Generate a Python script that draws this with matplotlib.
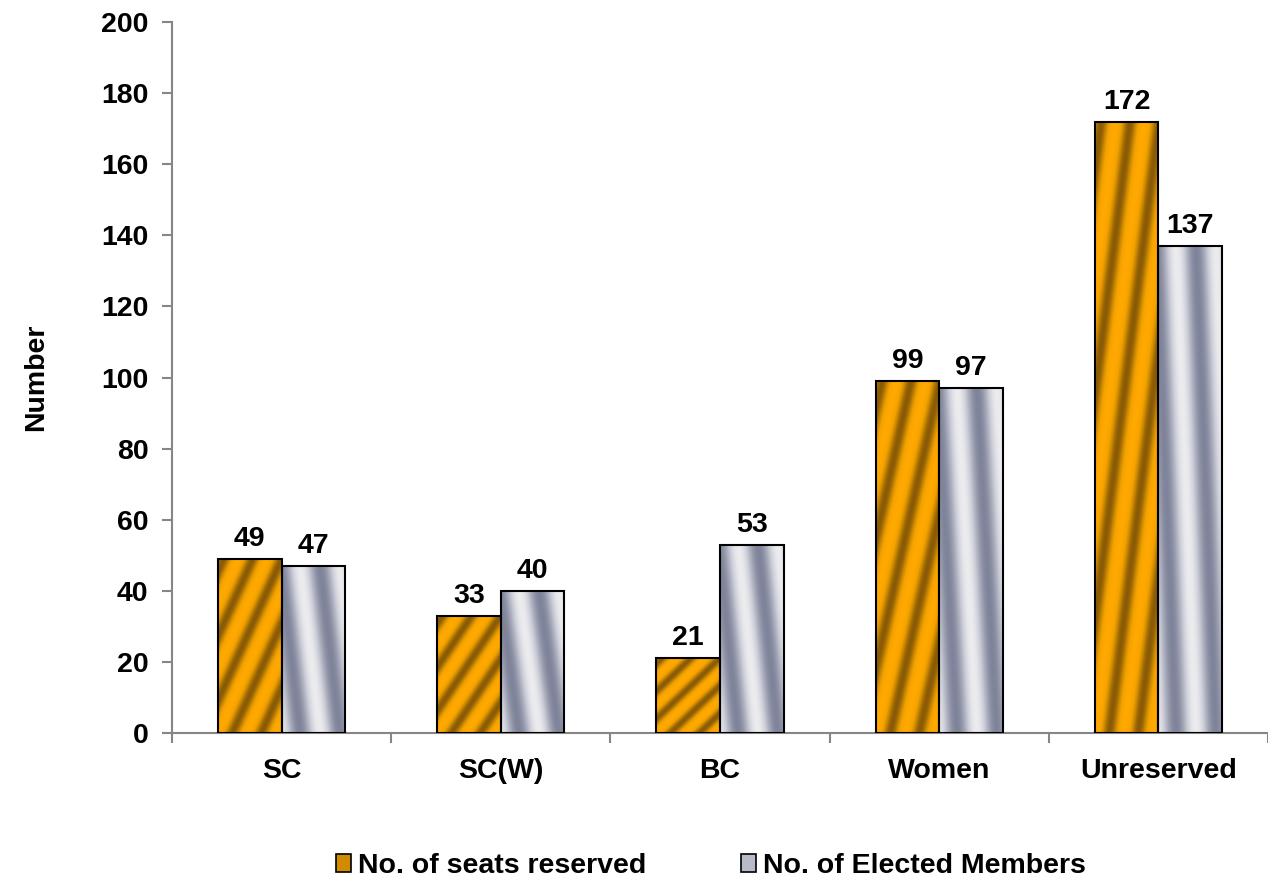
import numpy as np
import matplotlib
matplotlib.use("Agg")
import matplotlib.pyplot as plt
from matplotlib.colors import LinearSegmentedColormap
from matplotlib.patches import Patch

categories = ["SC", "SC(W)", "BC", "Women", "Unreserved"]
seats_reserved = [49, 33, 21, 99, 172]
elected_members = [47, 40, 53, 97, 137]
series_names = ["No. of seats reserved", "No. of Elected Members"]

plt.rcParams["font.family"] = ["Liberation Sans", "DejaVu Sans"]
plt.rcParams["font.weight"] = "bold"
FS = 20.5

orange_cmap = LinearSegmentedColormap.from_list("gold", ["#8a5a06", "#c98800", "#f5a200", "#ffa900"])
gray_cmap = LinearSegmentedColormap.from_list("steel", ["#80849a", "#a6a9b9", "#ccced8", "#ececef"])


def stripe_image(kind, n=200):
    # bar-normalised coords, the gradient stretches with the bar like in excel
    yy, xx = np.mgrid[0:1:n * 1j, 0:1:n * 1j]
    if kind == "orange":
        u = 2.2 * xx - 2.7 * yy
        v = 0.5 + 0.5 * np.cos(2 * np.pi * u)
    else:
        u = 1.6 * xx + 0.5 * yy + 0.05
        v = 0.5 + 0.5 * np.cos(2 * np.pi * u)
    return v


def gradient_bar(ax, rect, kind):
    x0, y0 = rect.get_x(), rect.get_y()
    w, h = rect.get_width(), rect.get_height()
    cmap = orange_cmap if kind == "orange" else gray_cmap
    im = ax.imshow(stripe_image(kind), cmap=cmap, origin="lower", aspect="auto",
                   extent=[x0, x0 + w, y0, y0 + h], interpolation="bilinear", zorder=2)
    im.set_clip_path(rect)


fig = plt.figure(figsize=(12.68, 8.82), dpi=100)
ax = fig.add_axes([172 / 1268, 1 - 733 / 882, 1 - 172 / 1268, (733 - 22) / 882])

x = np.arange(len(categories))
w = 0.29
bars1 = ax.bar(x - w / 2, seats_reserved, w, facecolor="none", edgecolor="black", linewidth=1.5, zorder=3)
bars2 = ax.bar(x + w / 2, elected_members, w, facecolor="none", edgecolor="black", linewidth=1.5, zorder=3)

ax.set_xlim(-0.5, len(categories) - 0.5)
ax.set_ylim(0, 200)

for b in bars1:
    gradient_bar(ax, b, "orange")
for b in bars2:
    gradient_bar(ax, b, "gray")

for b, val in zip(bars1, seats_reserved):
    ax.annotate(str(val), (b.get_x() + b.get_width() / 2, val), xytext=(0, 5),
                textcoords="offset points", ha="center", va="bottom", fontsize=FS, fontweight="bold")
for b, val in zip(bars2, elected_members):
    ax.annotate(str(val), (b.get_x() + b.get_width() / 2, val), xytext=(0, 5),
                textcoords="offset points", ha="center", va="bottom", fontsize=FS, fontweight="bold")

for s in ["top", "right"]:
    ax.spines[s].set_visible(False)
for s in ["left", "bottom"]:
    ax.spines[s].set_color("#868686")
    ax.spines[s].set_linewidth(1.5)

ax.set_yticks(np.arange(0, 201, 20))
ax.tick_params(axis="y", colors="#868686", length=7, width=1.5, labelcolor="black",
               labelsize=FS, pad=10)
ax.set_xticks(np.arange(-0.5, len(categories), 1.0))
ax.set_xticklabels([])
ax.set_xticks(x, minor=True)
ax.set_xticklabels(categories, minor=True, fontsize=FS, fontweight="bold")
ax.tick_params(axis="x", which="major", colors="#868686", length=7, width=1.5)
ax.tick_params(axis="x", which="minor", length=0, pad=18)
for lab in ax.get_yticklabels():
    lab.set_fontweight("bold")

ax.set_ylabel("Number", fontsize=FS, fontweight="bold")
ax.yaxis.set_label_coords(-0.112, 0.5)

handles = [Patch(facecolor="#d08b00", edgecolor="black", linewidth=1.2),
           Patch(facecolor="#b8bac8", edgecolor="black", linewidth=1.2)]
fig.legend(handles, series_names, loc="center", bbox_to_anchor=(711 / 1268, 1 - 866 / 882),
           ncol=2, frameon=False, prop={"weight": "bold", "size": FS},
           handlelength=0.55, handleheight=0.55, handletextpad=0.25, columnspacing=3.3)

fig.savefig("out.png", dpi=100)
